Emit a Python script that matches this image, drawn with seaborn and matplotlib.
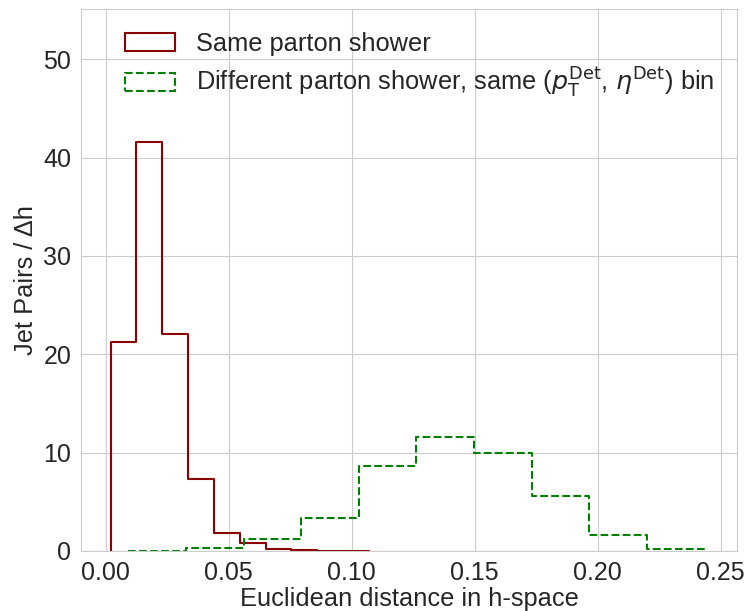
import numpy as np
import pandas as pd
import matplotlib
matplotlib.use("Agg")
import matplotlib.pyplot as plt
from matplotlib.patches import Patch
import seaborn as sns

# Normalised h-space distances (density per bin), 10 equal-width bins each
same_range = (0.002, 0.107)
same_density = [21.2, 41.6, 22.1, 7.3, 1.85, 0.8, 0.22, 0.06, 0.0, 0.05]

diff_range = (0.0093, 0.2433)
diff_density = [0.05, 0.35, 1.25, 3.4, 8.6, 11.55, 9.95, 5.55, 1.58, 0.25]

x_ticks = [0.00, 0.05, 0.10, 0.15, 0.20, 0.25]
y_ticks = [0, 10, 20, 30, 40, 50]

sns.set_style("whitegrid")
plt.rcParams["font.family"] = ["Liberation Sans", "DejaVu Sans"]

fig = plt.figure(figsize=(7.45, 6.11), dpi=100)
ax = fig.add_axes([0.1087, 0.0982, 0.8805, 0.8871])


def draw_hist(rng, density, color, ls):
    edges = np.linspace(rng[0], rng[1], len(density) + 1)
    df = pd.DataFrame({
        "h": 0.5 * (edges[:-1] + edges[1:]),
        "w": density,
    })
    sns.histplot(data=df, x="h", weights="w", bins=edges.tolist(),
                 element="step", fill=False, color=color,
                 linestyle=ls, linewidth=1.5, ax=ax)
    # open step outline: drop to the baseline at both ends
    line = ax.lines[-1]
    xd, yd = line.get_data()
    line.set_data(np.r_[xd[0], xd, xd[-1]], np.r_[0.0, yd, 0.0])


draw_hist(same_range, same_density, "darkred", "-")
draw_hist(diff_range, diff_density, "green", "--")

ax.set_xlim(-0.0100, 0.2566)
ax.set_ylim(0, 55.1)
ax.set_xticks(x_ticks)
ax.set_yticks(y_ticks)
ax.set_xticklabels([f"{t:.2f}" for t in x_ticks])
ax.tick_params(labelsize=18, colors=".15")
ax.set_xlabel("Euclidean distance in h-space", fontsize=18.3, color=".15", labelpad=2)
ax.set_ylabel("Jet Pairs / Δh", fontsize=18.3, color=".15")

handles = [
    Patch(facecolor="none", edgecolor="darkred", linewidth=1.5),
    Patch(facecolor="none", edgecolor="green", linewidth=1.5, linestyle="--"),
]
labels = [
    "Same parton shower",
    r"Different parton shower, same ($p_\mathrm{T}^\mathrm{Det}$, $\eta^\mathrm{Det}$) bin",
]
ax.legend(handles, labels, loc="upper right", frameon=False, fontsize=18.3,
          labelcolor=".15", labelspacing=0.4)

fig.savefig("out.png", dpi=100)
